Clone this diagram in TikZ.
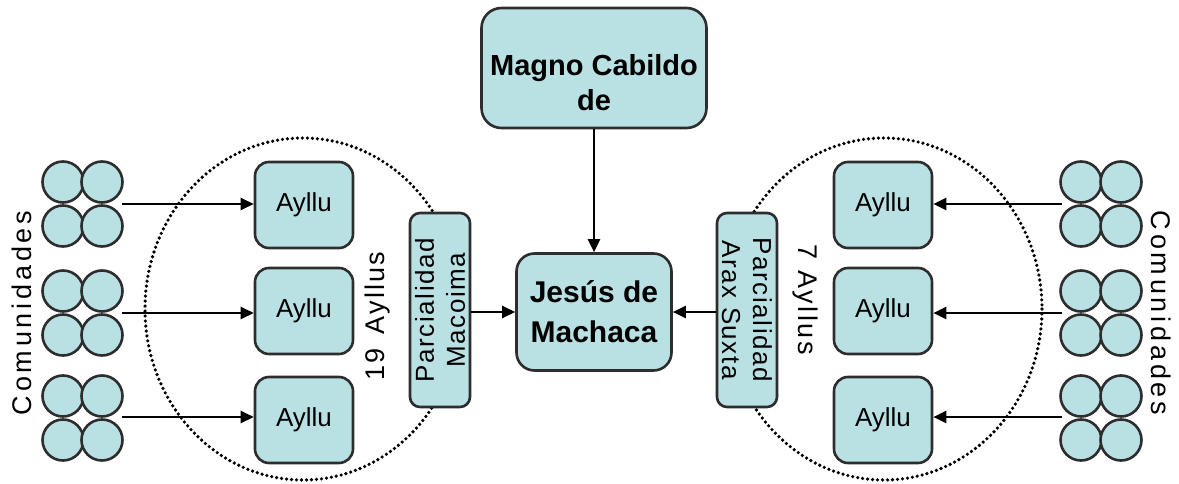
\documentclass[tikz,border=0pt]{standalone}
\usepackage{fontspec}
\setmainfont{Liberation Sans}
\usetikzlibrary{shapes, positioning, arrows.meta}
\definecolor{celeste}{RGB}{185,224,227}
\definecolor{borde}{RGB}{45,45,45}
\begin{document}
\begin{tikzpicture}[x=1pt, y=-1pt,
  caja/.style={shape=rectangle, rounded corners=14pt, draw=borde, line width=2.6pt, fill=celeste},
  ayllu/.style={caja, minimum width=98pt, minimum height=86pt, font=\fontsize{26}{30}\selectfont},
  parc/.style={caja, rounded corners=10pt, minimum width=194pt, minimum height=60pt, inner sep=0pt, align=center, font=\fontsize{26}{31}\selectfont\addfontfeature{LetterSpace=6}},
  com/.style={shape=circle, minimum size=41pt, inner sep=0pt, draw=borde, line width=2.6pt, fill=celeste},
  rot/.style={font=\fontsize{27}{30}\selectfont\addfontfeature{LetterSpace=14}},
  flecha/.style={-{Triangle[length=13pt, width=12pt]}, line width=2.6pt, black},
  borde punteado/.style={line width=3.6pt, dash pattern=on 0pt off 5pt, line cap=round, black}]
\useasboundingbox (0,0) rectangle (1179,484);
%dotted groups
\draw[borde punteado] (303,309) ellipse [x radius=158, y radius=171];
\draw[borde punteado] (884,309) ellipse [x radius=158, y radius=171];
%centre
\node[caja, rounded corners=20pt, minimum width=225pt, minimum height=120pt] (magno) at (594,68) {};
\node[align=center, font=\bfseries\fontsize{29}{35}\selectfont] (magnotxt) at (594,83) {Magno Cabildo\\de};
\node[caja, rounded corners=18pt, minimum width=155pt, minimum height=117pt, align=center, font=\bfseries\fontsize{30}{40}\selectfont] (jesus) at (594,312) {Jesús de\\Machaca};
\node[parc, rotate=90] (macoima) at (440,310) {Parcialidad\\Macoima};
\node[parc, rotate=-90] (arax) at (747,310) {Parcialidad\\Arax Suxta};
\node[rot, rotate=90, font=\fontsize{27}{30}\selectfont\addfontfeature{LetterSpace=8}] (n19) at (378,316) {19\, Ayllus};
\node[rot, rotate=-90, font=\fontsize{27}{30}\selectfont\addfontfeature{LetterSpace=10}] (n7) at (805,300) {7 Ayllus};
%split left
\node[ayllu] (a1) at (304,205) {Ayllu};
\node[ayllu] (a2) at (304,311) {Ayllu};
\node[ayllu] (a3) at (304,420) {Ayllu};
\node[com] at (63,182) {}; \node[com] at (102,182) {}; \node[com] at (63,226) {}; \node[com] at (102,226) {};
\node[com] at (63,291) {}; \node[com] at (102,291) {}; \node[com] at (63,335) {}; \node[com] at (102,335) {};
\node[com] at (63,396) {}; \node[com] at (102,396) {}; \node[com] at (63,440) {}; \node[com] at (102,440) {};
\coordinate (c1) at (122,204); \coordinate (c2) at (122,313); \coordinate (c3) at (122,417);
\node[rot, rotate=90] (comizq) at (22,313) {Comunidades};
%split right
\node[ayllu] (b1) at (883,205) {Ayllu};
\node[ayllu] (b2) at (883,311) {Ayllu};
\node[ayllu] (b3) at (883,420) {Ayllu};
\node[com] at (1081,182) {}; \node[com] at (1121,182) {}; \node[com] at (1081,226) {}; \node[com] at (1121,226) {};
\node[com] at (1081,291) {}; \node[com] at (1121,291) {}; \node[com] at (1081,335) {}; \node[com] at (1121,335) {};
\node[com] at (1081,396) {}; \node[com] at (1121,396) {}; \node[com] at (1081,440) {}; \node[com] at (1121,440) {};
\coordinate (d1) at (1062,204); \coordinate (d2) at (1062,313); \coordinate (d3) at (1062,417);
\node[rot, rotate=-90] (comder) at (1161,313) {Comunidades};
%%
\draw[flecha] (c1) -- (a1.west|-c1); \draw[flecha] (c2) -- (a2.west|-c2); \draw[flecha] (c3) -- (a3.west|-c3);
\draw[flecha] (d1) -- (b1.east|-d1); \draw[flecha] (d2) -- (b2.east|-d2); \draw[flecha] (d3) -- (b3.east|-d3);
\draw[flecha] (magno) -- (jesus);
\draw[flecha] (macoima.south|-jesus) -- (jesus.west);
\draw[flecha] (arax.south|-jesus) -- (jesus.east);
\end{tikzpicture}
\end{document}
